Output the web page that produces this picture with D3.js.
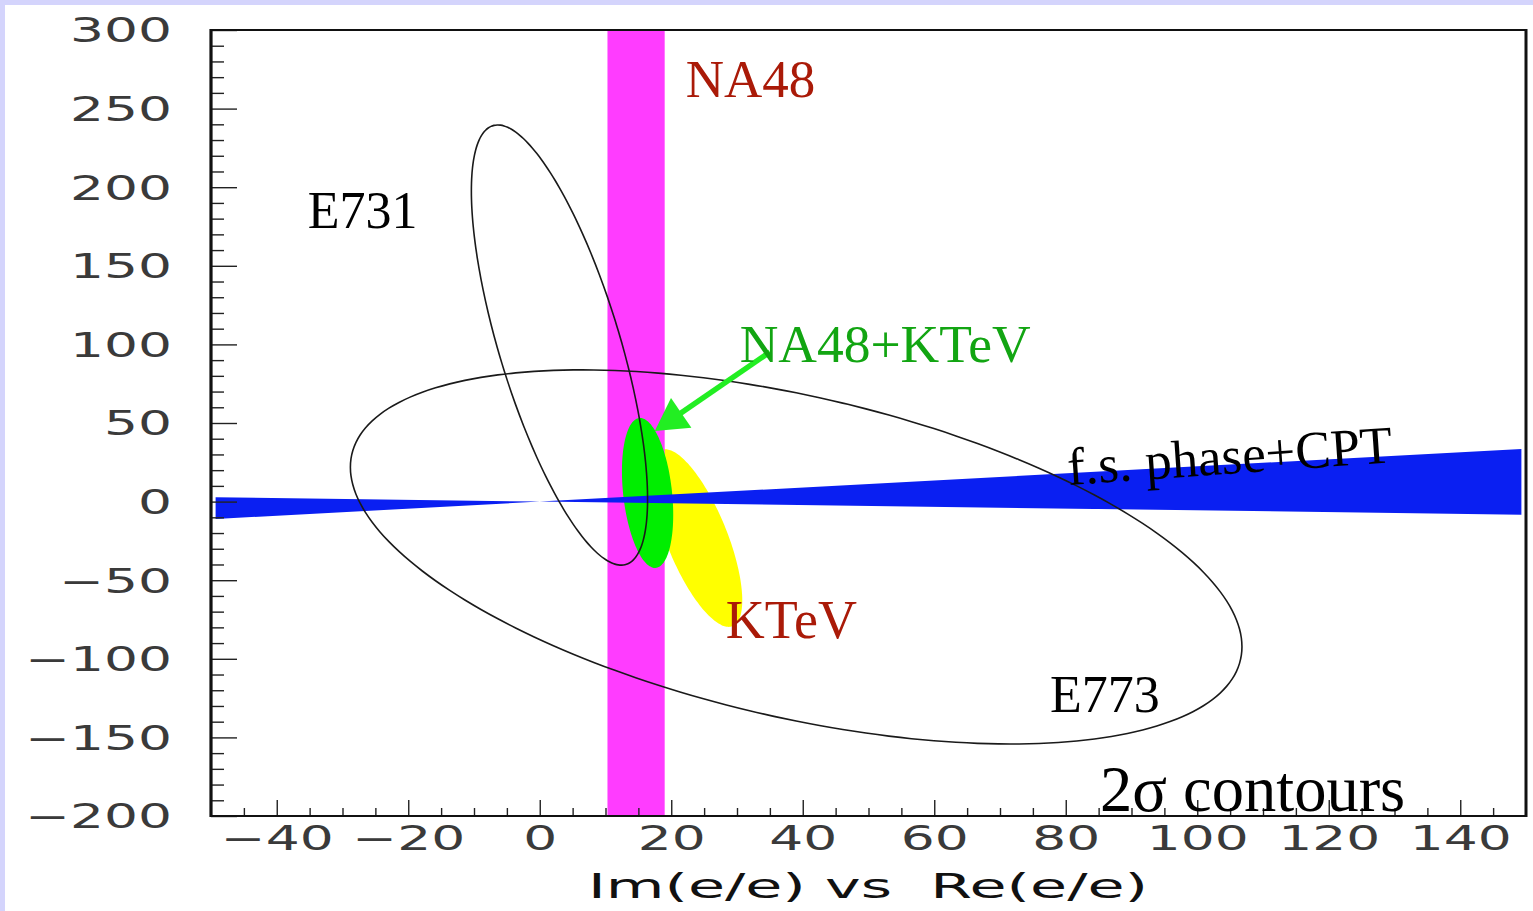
<!DOCTYPE html>
<html>
<head>
<meta charset="utf-8">
<script src="https://cdn.jsdelivr.net/npm/d3@7"></script>
<style>
  body { margin: 0; background: #fff; }
  svg { display: block; }
</style>
</head>
<body>
<div id="chart"></div>
<script>
// axis ranges and ticks
const imDomain = [-50, 150];
const reDomain = [-200, 300];
const xMajorTicks = [-40, -20, 0, 20, 40, 60, 80, 100, 120, 140];
const yMajorTicks = [-200, -150, -100, -50, 0, 50, 100, 150, 200, 250, 300];
const xMinorTicks = d3.range(-45, 150, 5).filter(v => v % 20 !== 0);
const yMinorTicks = d3.range(-190, 300, 10).filter(v => v % 50 !== 0);

// NA48 band (Im range)
const na48Band = [10.3, 19.0];

// f.s. phase + CPT wedge, [Im, Re]
const phaseWedge = [[-49.3, 2.8], [0, 0], [149.3, 33.5], [149.3, -8.3], [0, 0], [-49.3, -11.1]];

// 2 sigma contours: centre, half extents, correlation
const contourNames = ["KTeV", "NA48+KTeV", "E731", "E773"];
const contourIm  = [23.9, 16.4, 3.0, 39.0];
const contourRe  = [-23.2, 5.5, 99.6, -35.2];
const contourSIm = [6.9, 3.9, 13.4, 67.8];
const contourSRe = [56.5, 47.7, 140, 119];
const contourRho = [-0.70, -0.29, -0.70, -0.48];

// arrow NA48+KTeV label -> contour, [Im, Re]
const arrowFrom = [35.0, 95.2];
const arrowTo = [17.5, 44.9];

const width = 1533, height = 911;
const margin = {top: 30, right: 7, bottom: 95, left: 211};

const svg = d3.select("#chart").append("svg")
  .attr("width", width)
  .attr("height", height);

// lavender frame of the slide
svg.append("rect").attr("x", 0).attr("y", 0).attr("width", width).attr("height", 5).attr("fill", "#d4d4fc");
svg.append("rect").attr("x", 0).attr("y", 0).attr("width", 5).attr("height", height).attr("fill", "#d4d4fc");

const x = d3.scaleLinear().domain(imDomain).range([margin.left, width - margin.right]);
const y = d3.scaleLinear().domain(reDomain).range([height - margin.bottom, margin.top]);

const plot = svg.append("g");

const contours = contourNames.map((name, i) => ({
  name, im: contourIm[i], re: contourRe[i], sIm: contourSIm[i], sRe: contourSRe[i], rho: contourRho[i]
}));

const ellipsePath = c => {
  const pts = d3.range(0, 360, 3).map(a => {
    const t = a * Math.PI / 180;
    return [
      x(c.im + c.sIm * Math.cos(t)),
      y(c.re + c.sRe * (c.rho * Math.cos(t) + Math.sqrt(1 - c.rho * c.rho) * Math.sin(t)))
    ];
  });
  return d3.line().curve(d3.curveCardinalClosed)(pts);
};

// KTeV (yellow)
plot.append("path")
  .attr("d", ellipsePath(contours[0]))
  .attr("fill", "#ffff00");

// NA48 band
plot.append("rect")
  .attr("x", x(na48Band[0]))
  .attr("y", y(reDomain[1]))
  .attr("width", x(na48Band[1]) - x(na48Band[0]))
  .attr("height", y(reDomain[0]) - y(reDomain[1]))
  .attr("fill", "#ff3cff");

// NA48+KTeV (green)
plot.append("path")
  .attr("d", ellipsePath(contours[1]))
  .attr("fill", "#00ee00");

// phase wedge
plot.append("path")
  .attr("d", d3.line().x(d => x(d[0])).y(d => y(d[1]))(phaseWedge) + "Z")
  .attr("fill", "#0a1ff2");

// E731, E773 outlines
plot.selectAll(".outline")
  .data(contours.slice(2))
  .join("path")
    .attr("class", "outline")
    .attr("d", ellipsePath)
    .attr("fill", "none")
    .attr("stroke", "#1a1a1a")
    .attr("stroke-width", 1.6);

// arrow
{
  const x0 = x(arrowFrom[0]), y0 = y(arrowFrom[1]);
  const x1 = x(arrowTo[0]), y1 = y(arrowTo[1]);
  const len = Math.hypot(x1 - x0, y1 - y0);
  const ux = (x1 - x0) / len, uy = (y1 - y0) / len;
  const headLen = 32, headHalf = 18;
  const bx = x1 - ux * headLen, by = y1 - uy * headLen;
  plot.append("line")
    .attr("x1", x0).attr("y1", y0)
    .attr("x2", bx + ux * 2).attr("y2", by + uy * 2)
    .attr("stroke", "#22ee22")
    .attr("stroke-width", 5.5);
  plot.append("path")
    .attr("d", `M${x1},${y1}L${bx - uy * headHalf},${by + ux * headHalf}L${bx + uy * headHalf},${by - ux * headHalf}Z`)
    .attr("fill", "#22ee22");
}

// axes
const tickFont = g => g.selectAll("text")
  .attr("font-family", "DejaVu Sans, sans-serif")
  .attr("font-size", 33)
  .attr("fill", "#3a3a3a");

const fmt = d => d3.format("d")(d).replace("-", "\u2212");

const xAxis = svg.append("g")
  .attr("transform", `translate(0,${y(reDomain[0])})`)
  .call(d3.axisBottom(x).tickValues(xMajorTicks).tickSize(-16))
  .call(g => g.select(".domain").remove())
  .call(tickFont);
xAxis.selectAll("text")
  .attr("y", 0).attr("dy", 0)
  .attr("transform", "translate(0,34) scale(1.62,1)")
  .text(fmt);

svg.append("g")
  .attr("transform", `translate(0,${y(reDomain[0])})`)
  .call(d3.axisBottom(x).tickValues(xMinorTicks).tickSize(-8).tickFormat(""))
  .call(g => g.select(".domain").remove());

const yAxis = svg.append("g")
  .attr("transform", `translate(${x(imDomain[0])},0)`)
  .call(d3.axisLeft(y).tickValues(yMajorTicks).tickSize(-26))
  .call(g => g.select(".domain").remove())
  .call(tickFont);
yAxis.selectAll("text")
  .attr("x", 0).attr("dy", "0.36em")
  .attr("transform", "translate(-39,0) scale(1.62,1)")
  .text(fmt);

svg.append("g")
  .attr("transform", `translate(${x(imDomain[0])},0)`)
  .call(d3.axisLeft(y).tickValues(yMinorTicks).tickSize(-13).tickFormat(""))
  .call(g => g.select(".domain").remove());

svg.selectAll(".tick line").attr("stroke", "#222").attr("stroke-width", 1.4);

// frame
svg.append("rect")
  .attr("x", x(imDomain[0]))
  .attr("y", y(reDomain[1]))
  .attr("width", x(imDomain[1]) - x(imDomain[0]))
  .attr("height", y(reDomain[0]) - y(reDomain[1]))
  .attr("fill", "none")
  .attr("stroke", "#111")
  .attr("stroke-width", 2);
svg.append("line")
  .attr("x1", x(imDomain[0])).attr("x2", x(imDomain[0]))
  .attr("y1", y(reDomain[1]) - 1).attr("y2", y(reDomain[0]) + 1)
  .attr("stroke", "#111").attr("stroke-width", 3.2);
svg.append("line")
  .attr("x1", x(imDomain[1])).attr("x2", x(imDomain[1]))
  .attr("y1", y(reDomain[1]) - 1).attr("y2", y(reDomain[0]) + 1)
  .attr("stroke", "#111").attr("stroke-width", 3);

// axis title
svg.append("text")
  .attr("x", 868)
  .attr("y", 898)
  .attr("text-anchor", "middle")
  .attr("font-family", "DejaVu Sans, sans-serif")
  .attr("font-size", 34)
  .attr("textLength", 560)
  .attr("lengthAdjust", "spacingAndGlyphs")
  .attr("fill", "#111")
  .style("white-space", "pre")
  .text("Im(e/e) vs  Re(e/e)");

// annotations
const labels = [
  {text: "NA48", im: 22.2, re: 257.4, color: "#aa1a08", size: 53},
  {text: "E731", im: -35.3, re: 174.0, color: "#000", size: 52},
  {text: "NA48+KTeV", im: 30.4, re: 88.8, color: "#12a512", size: 53.5},
  {text: "KTeV", im: 28.3, re: -86.8, color: "#aa1a08", size: 54},
  {text: "E773", im: 77.6, re: -133.8, color: "#000", size: 52},
  {text: "2\u03c3 contours", im: 85.2, re: -196.8, color: "#000", size: 64.5},
  {text: "f.s. phase+CPT", im: 80.4, re: 10.6, color: "#000", size: 53, rotate: -4}
];

svg.append("g")
  .selectAll("text")
  .data(labels)
  .join("text")
    .attr("transform", d => `translate(${x(d.im)},${y(d.re)}) rotate(${d.rotate || 0})`)
    .attr("font-family", "Liberation Serif, Times New Roman, serif")
    .attr("font-size", d => d.size)
    .attr("fill", d => d.color)
    .text(d => d.text);
</script>
</body>
</html>
